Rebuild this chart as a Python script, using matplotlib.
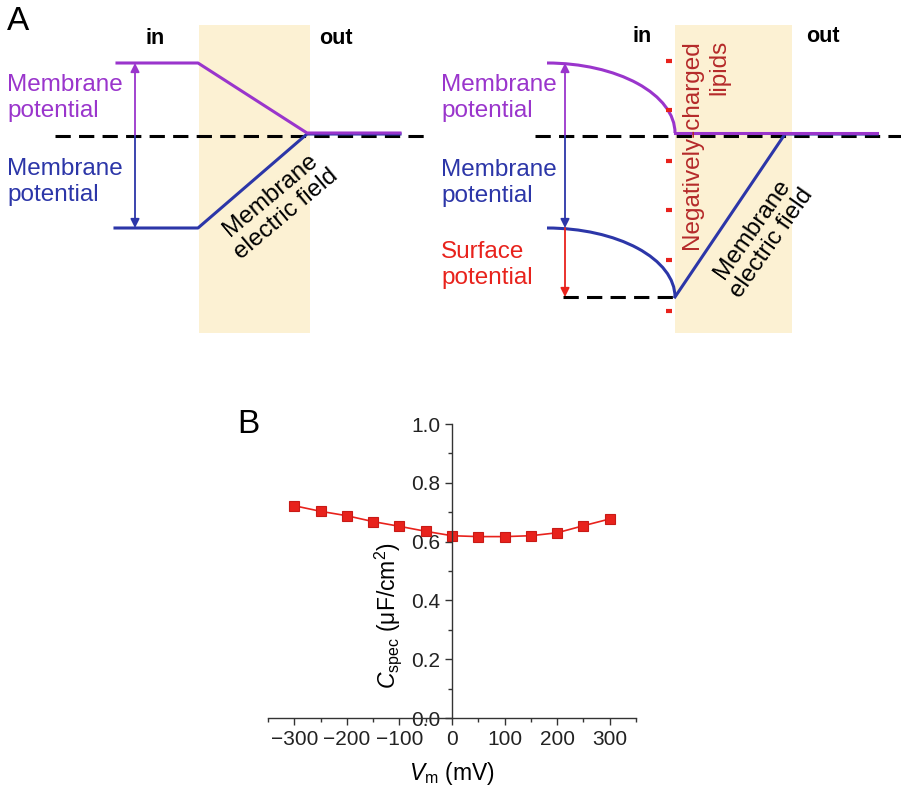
"""
Membrane potential schematic (A) and specific capacitance vs. voltage (B).
"""

import matplotlib
matplotlib.use('Agg')
import matplotlib.pyplot as plt
from matplotlib.patches import Arc, Rectangle
from matplotlib.ticker import MultipleLocator

plt.rcParams['font.family'] = ['Liberation Sans', 'DejaVu Sans']
plt.rcParams['mathtext.fontset'] = 'custom'
plt.rcParams['mathtext.rm'] = 'Liberation Sans'
plt.rcParams['mathtext.it'] = 'Liberation Sans:italic'

# ──────────────────────────────────────────────
# DATA panel B
# ──────────────────────────────────────────────
vm = [-300, -250, -200, -150, -100, -50, 0, 50, 100, 150, 200, 250, 300]
cspec = [0.722, 0.703, 0.688, 0.668, 0.652, 0.635, 0.620,
         0.617, 0.617, 0.620, 0.630, 0.654, 0.677]
x_ticks = [-300, -200, -100, 0, 100, 200, 300]
y_ticks = [0.0, 0.2, 0.4, 0.6, 0.8, 1.0]

# ──────────────────────────────────────────────
# SCHEMATIC panel A (pixel coordinates, y downwards)
# ──────────────────────────────────────────────
bands_x = [(199, 310), (675, 792)]
band_y = (25, 333)

left_purple_x = [117, 198, 307, 400]
left_purple_y = [63, 63, 133, 133]
left_blue_x = [115, 198, 307, 400]
left_blue_y = [228, 228, 134, 134]

right_purple_x = [675, 877]
right_purple_y = [133, 133]
right_blue_x = [675, 785, 877]
right_blue_y = [297, 134, 134]
# quarter-ellipse surface curves: (centre x, centre y, half width, half height)
arc_purple = (547, 133, 128, 70)
arc_blue = (547, 297, 128, 69)

charges_x = 669
charges_y = [61, 110, 161, 210, 260, 311]

PURPLE = '#9a35cc'
BLUE = '#2c36a8'
RED = '#e8221c'
DARKRED = '#b52a2a'
BAND = '#fcf1d3'

fig = plt.figure(figsize=(9.01, 7.90), dpi=100, facecolor='white')

ax0 = fig.add_axes([0, 0, 1, 1])
ax0.set_xlim(0, 901)
ax0.set_ylim(790, 0)
ax0.axis('off')

for x0, x1 in bands_x:
    ax0.add_patch(Rectangle((x0, band_y[0]), x1 - x0, band_y[1] - band_y[0],
                            facecolor=BAND, edgecolor='none', zorder=0))

dash = (0, (5, 2.7))
ax0.plot([55, 430], [136, 136], color='black', lw=2.2, ls=dash, zorder=1)
ax0.plot([535, 901], [136, 136], color='black', lw=2.2, ls=dash, zorder=1)
ax0.plot([563, 675], [297, 297], color='black', lw=2.2, ls=dash, zorder=1)

ax0.plot(left_blue_x, left_blue_y, color=BLUE, lw=2.2, zorder=2)
ax0.plot(left_purple_x, left_purple_y, color=PURPLE, lw=2.2, zorder=3)
ax0.plot(right_blue_x, right_blue_y, color=BLUE, lw=2.2, zorder=2)
ax0.plot(right_purple_x, right_purple_y, color=PURPLE, lw=2.2, zorder=3)
for (cx, cy, hw, hh), col in [(arc_purple, PURPLE), (arc_blue, BLUE)]:
    ax0.add_patch(Arc((cx, cy), 2 * hw, 2 * hh, theta1=270, theta2=360,
                      color=col, lw=2.2, zorder=3))

ax0.plot([charges_x] * len(charges_y), charges_y, ls='none', marker='_',
         ms=5, mew=3, color=RED, zorder=3)


def arrow(x, y0, y1, col):
    ax0.annotate('', xy=(x, y1), xytext=(x, y0),
                 arrowprops=dict(arrowstyle='-|>', color=col, lw=1.3,
                                 mutation_scale=13, shrinkA=0, shrinkB=0))


arrow(135, 136, 63, PURPLE)
arrow(135, 136, 228, BLUE)
arrow(565, 136, 63, PURPLE)
arrow(565, 136, 228, BLUE)
arrow(565, 228, 297, RED)

fs = 17.5
txt = dict(fontsize=fs, linespacing=1.22, va='center', ha='left')
ax0.text(7, 98, 'Membrane\npotential', color=PURPLE, **txt)
ax0.text(7, 182, 'Membrane\npotential', color=BLUE, **txt)
ax0.text(441, 98, 'Membrane\npotential', color=PURPLE, **txt)
ax0.text(441, 183, 'Membrane\npotential', color=BLUE, **txt)
ax0.text(441, 265, 'Surface\npotential', color=RED, **txt)

for x, y, s in [(155, 39, 'in'), (336, 39, 'out'), (642, 36, 'in'), (823, 36, 'out')]:
    ax0.text(x, y, s, fontsize=15.5, fontweight='bold', ha='center', va='center')

ax0.text(278, 205, 'Membrane\nelectric field', fontsize=fs, rotation=40,
         ha='center', va='center', multialignment='center', linespacing=1.15)
ax0.text(762, 236, 'Membrane\nelectric field', fontsize=fs, rotation=55,
         ha='center', va='center', multialignment='center', linespacing=1.15)
ax0.text(706, 40, 'Negatively-charged\nlipids', fontsize=fs, rotation=90,
         color=DARKRED, ha='center', va='top', multialignment='right',
         linespacing=1.3)

ax0.text(7, 6, 'A', fontsize=24, ha='left', va='top')
ax0.text(237, 409, 'B', fontsize=24, ha='left', va='top')

# ──────────────────────────────────────────────
# PANEL B
# ──────────────────────────────────────────────
ax = fig.add_axes([268 / 901, 72 / 790, 368 / 901, 294 / 790])
ax.patch.set_alpha(0)
ax.plot(vm, cspec, color=RED, lw=1.2, marker='s', ms=7.5,
        mfc=RED, mec='#c81a16', mew=0.8, clip_on=False)
ax.set_xlim(-350, 350)
ax.set_ylim(0, 1.0)
ax.spines['left'].set_position(('data', 0))
for side in ['top', 'right']:
    ax.spines[side].set_visible(False)
for side in ['left', 'bottom']:
    ax.spines[side].set_color('#333333')
    ax.spines[side].set_linewidth(1.0)
ax.set_xticks(x_ticks)
ax.set_yticks(y_ticks)
ax.set_yticklabels([f'{v:.1f}' for v in y_ticks])
ax.xaxis.set_minor_locator(MultipleLocator(50))
ax.yaxis.set_minor_locator(MultipleLocator(0.1))
ax.tick_params(which='major', direction='out', length=5, width=1.0,
               color='#333333', labelsize=15, labelcolor='#222222')
ax.tick_params(which='minor', direction='out', length=3, width=1.0,
               color='#333333')
ax.set_xlabel('$V_{\\mathrm{m}}$ (mV)', fontsize=16.5, labelpad=8)
ax.text(0.326, 0.35, '$C_{\\mathrm{spec}}$ (μF/cm$^2$)', fontsize=16.5,
        rotation=90, ha='center', va='center', transform=ax.transAxes)

fig.savefig('out.png', dpi=100, facecolor='white')
plt.close()
